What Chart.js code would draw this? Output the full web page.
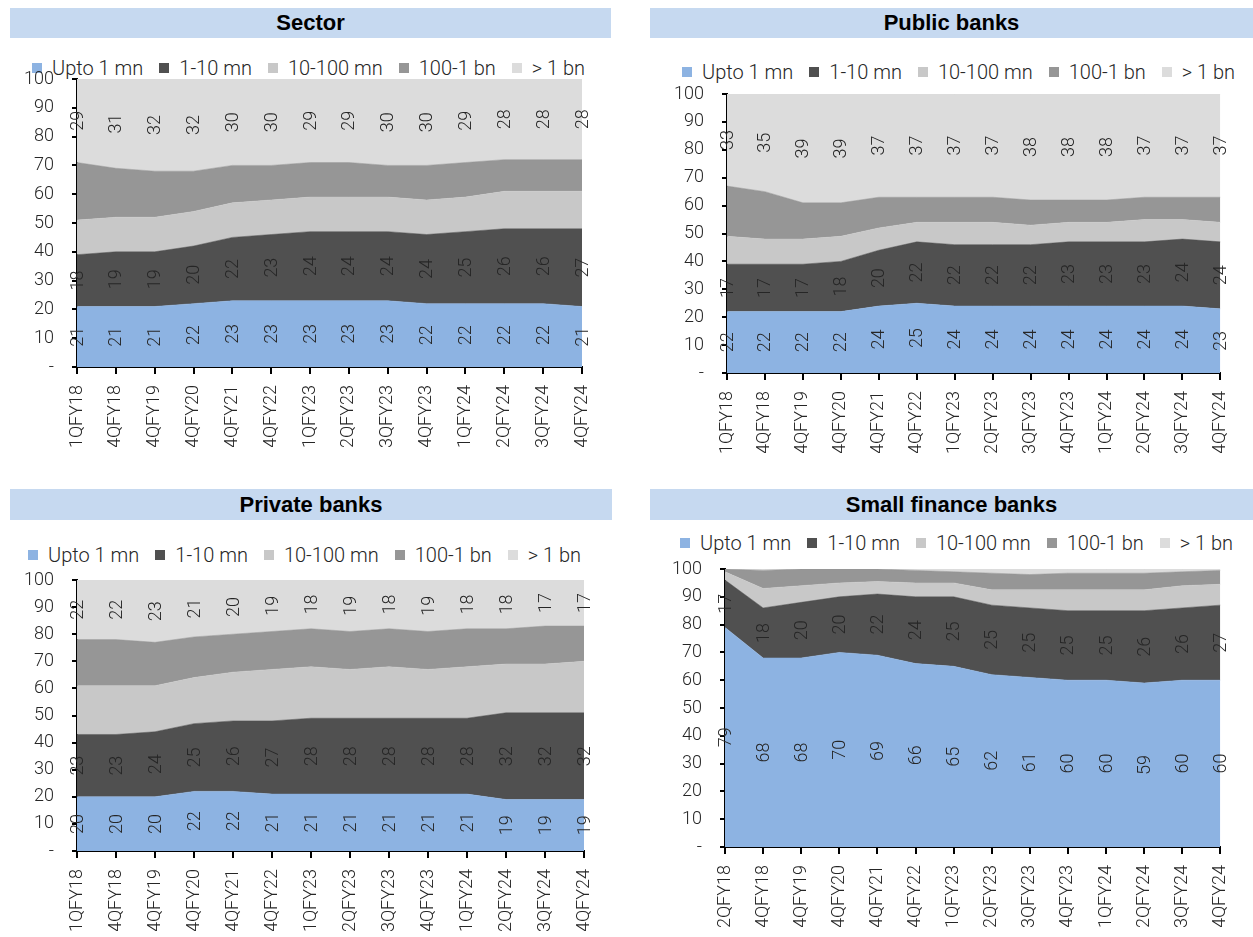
<!DOCTYPE html>
<html>
<head>
<meta charset="utf-8">
<script src="https://cdn.jsdelivr.net/npm/chart.js@4.4.1/dist/chart.umd.min.js"></script>
<style>
  html, body { margin: 0; padding: 0; background: #fff; }
  body { width: 1253px; height: 937px; position: relative; overflow: hidden; font-family: Roboto, "Liberation Sans", sans-serif; }
  .bar { position: absolute; background: #c6d9f0; color: #000; font-family: "Liberation Sans", Arial, sans-serif; font-weight: 700; font-size: 22px; text-align: center; }
  .leg { position: absolute; display: flex; align-items: center; height: 22px; font-size: 20px; font-weight: 300; color: #262626; white-space: nowrap; }
  .leg .it { display: flex; align-items: center; margin-right: 16px; }
  .leg .sq { display: inline-block; width: 10px; height: 10px; margin-right: 10px; }
  .wrap { position: absolute; }
  .wrap canvas { display: block; }
</style>
</head>
<body>
<script>
// ---- categories ----
const quartersMain = ['1QFY18','4QFY18','4QFY19','4QFY20','4QFY21','4QFY22','1QFY23','2QFY23','3QFY23','4QFY23','1QFY24','2QFY24','3QFY24','4QFY24'];
const quartersSfb  = ['2QFY18','4QFY18','4QFY19','4QFY20','4QFY21','4QFY22','1QFY23','2QFY23','3QFY23','4QFY23','1QFY24','2QFY24','3QFY24','4QFY24'];

// ---- ticket-size buckets ----
const bucketNames = ['Upto 1 mn', '1-10 mn', '10-100 mn', '100-1 bn', '> 1 bn'];

// ---- Sector (% share) ----
const sectorUpto1mn  = [21,21,21,22,23,23,23,23,23,22,22,22,22,21];
const sector1to10mn  = [18,19,19,20,22,23,24,24,24,24,25,26,26,27];
const sector10to100  = [12,12,12,12,12,12,12,12,12,12,12,13,13,13];
const sector100to1bn = [20,17,16,14,13,12,12,12,11,12,12,11,11,11];
const sectorAbove1bn = [29,31,32,32,30,30,29,29,30,30,29,28,28,28];

// ---- Public banks (% share) ----
const publicUpto1mn  = [22,22,22,22,24,25,24,24,24,24,24,24,24,23];
const public1to10mn  = [17,17,17,18,20,22,22,22,22,23,23,23,24,24];
const public10to100  = [10,9,9,9,8,7,8,8,7,7,7,8,7,7];
const public100to1bn = [18,17,13,12,11,9,9,9,9,8,8,8,8,9];
const publicAbove1bn = [33,35,39,39,37,37,37,37,38,38,38,37,37,37];

// ---- Private banks (% share) ----
const privateUpto1mn  = [20,20,20,22,22,21,21,21,21,21,21,19,19,19];
const private1to10mn  = [23,23,24,25,26,27,28,28,28,28,28,32,32,32];
const private10to100  = [18,18,17,17,18,19,19,18,19,18,19,18,18,19];
const private100to1bn = [17,17,16,15,14,14,14,14,14,14,14,13,14,13];
const privateAbove1bn = [22,22,23,21,20,19,18,19,18,19,18,18,17,17];

// ---- Small finance banks (% share) ----
const sfbUpto1mn  = [79,68,68,70,69,66,65,62,61,60,60,59,60,60];
const sfb1to10mn  = [17,18,20,20,22,24,25,25,25,25,25,26,26,27];
const sfb10to100  = [3,7,6,5,4.5,5,5,5.5,6.5,7.5,7.5,7.5,8,7.5];
const sfb100to1bn = [1,6.5,6,5,4.5,4.5,4,6,5.5,6,6,6,5,5];
const sfbAbove1bn = [0,0.5,0,0,0,0.5,1,1.5,2,1.5,1.5,1.5,1,0.5];

const bucketColors = ['#8db3e2', '#505050', '#c8c8c8', '#969696', '#dcdcdc'];
const textColor = '#262626';
const labelFont = '300 18px Roboto';

const panels = [
  { title: 'Sector', labels: quartersMain,
    series: [sectorUpto1mn, sector1to10mn, sector10to100, sector100to1bn, sectorAbove1bn],
    shown: [0, 1, 4],
    bar: { x: 10, y: 8, w: 601, h: 30 },
    legend: { x: 32, y: 68 },
    box: { x: 0, y: 40, w: 625, h: 430 },
    area: { l: 77, t: 79, r: 582, b: 367 } },
  { title: 'Public banks', labels: quartersMain,
    series: [publicUpto1mn, public1to10mn, public10to100, public100to1bn, publicAbove1bn],
    shown: [0, 1, 4],
    bar: { x: 650, y: 8, w: 603, h: 30 },
    legend: { x: 682, y: 72 },
    box: { x: 630, y: 40, w: 623, h: 430 },
    area: { l: 727, t: 94, r: 1233, b: 373 } },
  { title: 'Private banks', labels: quartersMain,
    series: [privateUpto1mn, private1to10mn, private10to100, private100to1bn, privateAbove1bn],
    shown: [0, 1, 4],
    bar: { x: 10, y: 489, w: 602, h: 31 },
    legend: { x: 28, y: 555 },
    box: { x: 0, y: 522, w: 625, h: 415 },
    area: { l: 77, t: 580, r: 584, b: 851 } },
  { title: 'Small finance banks', labels: quartersSfb,
    series: [sfbUpto1mn, sfb1to10mn, sfb10to100, sfb100to1bn, sfbAbove1bn],
    shown: [0, 1],
    bar: { x: 650, y: 489, w: 603, h: 31 },
    legend: { x: 680, y: 543 },
    box: { x: 630, y: 522, w: 623, h: 415 },
    area: { l: 725, t: 569, r: 1227, b: 847 } }
];

const Y_AXIS_W = 70;
const X_AXIS_H = 80;

// value labels written vertically in the middle of each band
const bandLabels = {
  id: 'bandLabels',
  afterDatasetsDraw(chart, args, opts) {
    const { ctx, scales: { x, y } } = chart;
    const ds = chart.data.datasets;
    ctx.save();
    ctx.font = labelFont;
    ctx.fillStyle = textColor;
    ctx.textAlign = 'center';
    ctx.textBaseline = 'middle';
    opts.shown.forEach(si => {
      ds[si].data.forEach((v, i) => {
        let below = 0;
        for (let k = 0; k < si; k++) below += ds[k].data[i];
        const yc = (y.getPixelForValue(below) + y.getPixelForValue(below + v)) / 2;
        const xc = x.getPixelForValue(i);
        ctx.save();
        ctx.translate(xc, yc);
        ctx.rotate(-Math.PI / 2);
        ctx.fillText(String(v), 0, 1);
        ctx.restore();
      });
    });
    ctx.restore();
  }
};

panels.forEach(p => {
  // title strip
  const bar = document.createElement('div');
  bar.className = 'bar';
  Object.assign(bar.style, { left: p.bar.x + 'px', top: p.bar.y + 'px', width: p.bar.w + 'px', height: p.bar.h + 'px', lineHeight: p.bar.h + 'px' });
  bar.textContent = p.title;
  document.body.appendChild(bar);

  // legend row
  const leg = document.createElement('div');
  leg.className = 'leg';
  Object.assign(leg.style, { left: p.legend.x + 'px', top: (p.legend.y - 11) + 'px' });
  bucketNames.forEach((name, i) => {
    const it = document.createElement('span');
    it.className = 'it';
    const sq = document.createElement('span');
    sq.className = 'sq';
    sq.style.background = bucketColors[i];
    it.appendChild(sq);
    it.appendChild(document.createTextNode(name));
    leg.appendChild(it);
  });
  document.body.appendChild(leg);

  // chart canvas
  const wrap = document.createElement('div');
  wrap.className = 'wrap';
  Object.assign(wrap.style, { left: p.box.x + 'px', top: p.box.y + 'px', width: p.box.w + 'px', height: p.box.h + 'px' });
  const cv = document.createElement('canvas');
  wrap.appendChild(cv);
  document.body.appendChild(wrap);

  const pad = {
    left: p.area.l - p.box.x - Y_AXIS_W,
    top: p.area.t - p.box.y,
    right: p.box.x + p.box.w - p.area.r,
    bottom: p.box.y + p.box.h - p.area.b - X_AXIS_H
  };

  new Chart(cv, {
    type: 'line',
    data: {
      labels: p.labels,
      datasets: p.series.map((s, i) => ({
        label: bucketNames[i],
        data: s,
        backgroundColor: bucketColors[i],
        borderColor: bucketColors[i],
        borderWidth: 0.5,
        pointRadius: 0,
        tension: 0,
        fill: i === 0 ? 'origin' : '-1'
      }))
    },
    options: {
      responsive: true,
      maintainAspectRatio: false,
      animation: false,
      events: [],
      layout: { padding: pad },
      plugins: {
        legend: { display: false },
        tooltip: { enabled: false },
        bandLabels: { shown: p.shown }
      },
      scales: {
        x: {
          z: 1,
          offset: false,
          afterFit: s => { s.height = X_AXIS_H; },
          border: { display: true, color: '#000', width: 2 },
          grid: { drawOnChartArea: false, drawTicks: true, tickLength: 7, color: '#000', lineWidth: 2 },
          ticks: { minRotation: 90, maxRotation: 90, autoSkip: false, padding: 11, color: textColor, font: { family: 'Roboto', size: 18, weight: '300' } }
        },
        y: {
          z: 1,
          stacked: true,
          min: 0,
          max: 100,
          afterFit: s => { s.width = Y_AXIS_W; },
          border: { display: true, color: '#000', width: 2 },
          grid: { drawOnChartArea: false, drawTicks: true, tickLength: 5, color: '#000', lineWidth: 2 },
          ticks: {
            stepSize: 10,
            padding: 18,
            color: textColor,
            font: { family: 'Roboto', size: 18, weight: '300' },
            callback: v => (v === 0 ? '-' : v)
          }
        }
      }
    },
    plugins: [bandLabels]
  });
});
</script>
</body>
</html>
